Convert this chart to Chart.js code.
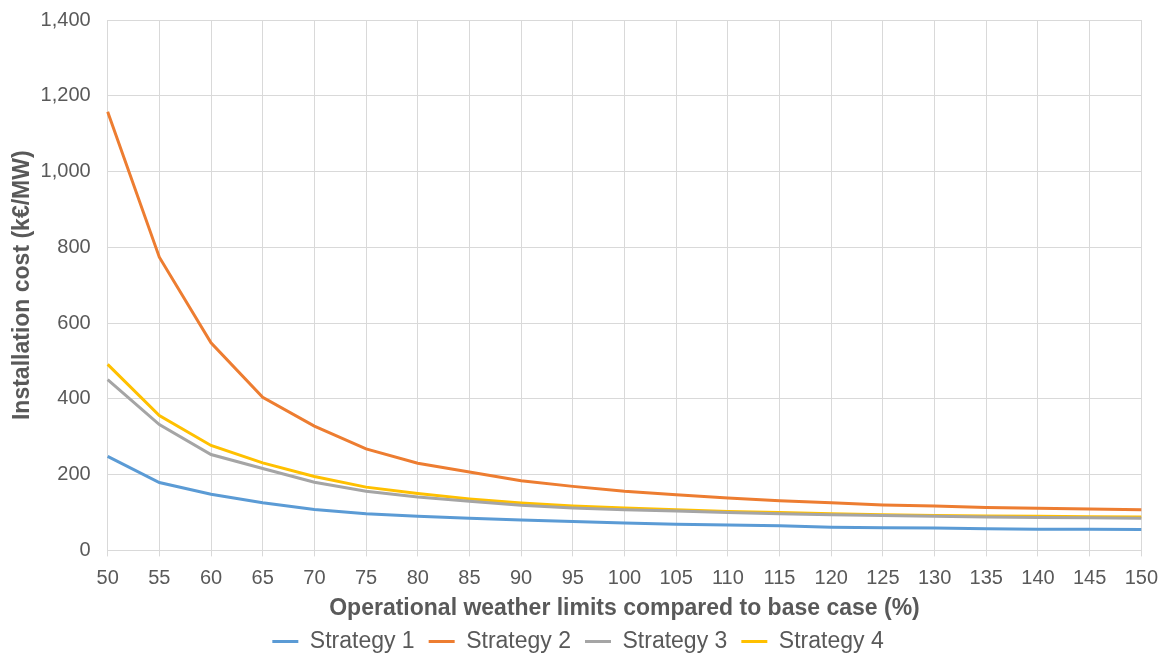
<!DOCTYPE html>
<html>
<head>
<meta charset="utf-8">
<script src="https://cdn.jsdelivr.net/npm/chart.js@4"></script>
<style>
  html, body { margin: 0; padding: 0; background: #ffffff; }
  #wrap { width: 1163px; height: 655px; }
</style>
</head>
<body>
<div id="wrap"><canvas id="costChart"></canvas></div>
<script>
// Operational weather limits (%) on the x axis
const limits = ['50', '55', '60', '65', '70', '75', '80', '85', '90', '95', '100',
                '105', '110', '115', '120', '125', '130', '135', '140', '145', '150'];

// Installation cost (k€/MW) per strategy
const strategy1 = [248, 179, 148, 126, 108, 97, 90, 85, 80, 76, 72, 69, 67, 65, 61, 60, 59, 57, 56, 56, 55];
const strategy2 = [1158, 774, 548, 404, 328, 268, 230, 207, 184, 169, 156, 147, 138, 131, 126, 120, 117, 113, 111, 109, 107];
const strategy3 = [451, 332, 253, 216, 180, 156, 141, 130, 119, 112, 107, 104, 100, 97, 94, 92, 90, 88, 87, 86, 85];
const strategy4 = [491, 356, 277, 231, 195, 167, 150, 136, 125, 117, 112, 107, 103, 100, 97, 94, 92, 91, 90, 89, 88];

const yTicks = [0, 200, 400, 600, 800, 1000, 1200, 1400];

function initChart() {
    const ctx = document.getElementById('costChart').getContext('2d');
    const txt = '#595959';
    const grid = '#d9d9d9';
    const font = 'Liberation Sans, Arial, sans-serif';

    const line = (label, data, color) => ({
        label: label,
        data: data,
        borderColor: color,
        backgroundColor: color,
        borderWidth: 3,
        pointRadius: 0,
        pointHoverRadius: 0,
        tension: 0,
        fill: false
    });

    new Chart(ctx, {
        type: 'line',
        data: {
            labels: limits,
            datasets: [
                line('Strategy 1', strategy1, '#5b9bd5'),
                line('Strategy 2', strategy2, '#ed7d31'),
                line('Strategy 3', strategy3, '#a5a5a5'),
                line('Strategy 4', strategy4, '#ffc000')
            ]
        },
        options: {
            responsive: true,
            maintainAspectRatio: false,
            animation: false,
            layout: { padding: { left: -4, right: 3, top: -6, bottom: -8 } },
            plugins: {
                legend: {
                    position: 'bottom',
                    labels: {
                        color: txt,
                        font: { family: font, size: 23 },
                        usePointStyle: true,
                        pointStyle: 'line',
                        pointStyleWidth: 26,
                        padding: 14
                    }
                },
                tooltip: { enabled: false }
            },
            scales: {
                x: {
                    offset: false,
                    grid: { color: grid, lineWidth: 1, tickLength: 6, tickColor: grid },
                    border: { color: grid },
                    ticks: {
                        color: txt,
                        font: { family: font, size: 20, lineHeight: 1.7 },
                        maxRotation: 0,
                        autoSkip: false,
                        padding: 5
                    },
                    title: {
                        display: true,
                        text: 'Operational weather limits compared to base case (%)',
                        color: txt,
                        font: { family: font, size: 23, weight: 'bold' },
                        padding: { top: -6, bottom: -6 }
                    }
                },
                y: {
                    min: 0,
                    max: 1400,
                    afterBuildTicks: axis => { axis.ticks = yTicks.map(v => ({ value: v })); },
                    grid: { color: grid, lineWidth: 1, tickLength: 7, tickColor: 'rgba(0,0,0,0)' },
                    border: { color: grid },
                    ticks: {
                        color: txt,
                        font: { family: font, size: 20, lineHeight: 1.0 },
                        padding: 10,
                        callback: v => v.toLocaleString('en-US')
                    },
                    title: {
                        display: true,
                        text: 'Installation cost (k€/MW)',
                        color: txt,
                        font: { family: font, size: 23, weight: 'bold' },
                        padding: { top: 13, bottom: -6 }
                    }
                }
            }
        }
    });
}

window.addEventListener('load', () => {
    initChart();
});
</script>
</body>
</html>
